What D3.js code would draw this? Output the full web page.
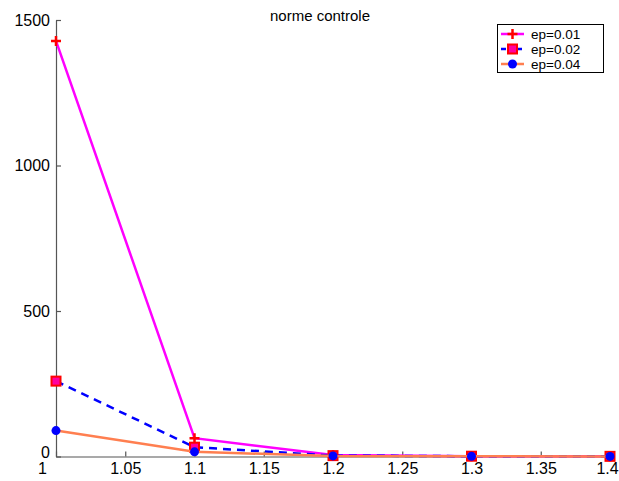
<!DOCTYPE html>
<html>
<head>
<meta charset="utf-8">
<script src="https://cdn.jsdelivr.net/npm/d3@7"></script>
<style>
  body { margin: 0; background: #fff; }
  text { font-family: "Liberation Sans", Arial, sans-serif; }
</style>
</head>
<body>
<script>
var xValues = [1.0, 1.1, 1.2, 1.3, 1.4];
var ep001 = [1428, 63, 5, 1, 0.5];
var ep002 = [259, 32, 3, 1, 0.5];
var ep004 = [89, 16, 2, 0.5, 0.3];
var seriesNames = ['ep=0.01', 'ep=0.02', 'ep=0.04'];
var xTicks = [1, 1.05, 1.1, 1.15, 1.2, 1.25, 1.3, 1.35, 1.4];
var yTicks = [0, 500, 1000, 1500];

var width = 619, height = 481;
var x = d3.scaleLinear().domain([1, 1.4]).range([56, 610]);
var y = d3.scaleLinear().domain([0, 1500]).range([456.5, 20]);

var svg = d3.select('body').append('svg')
    .attr('width', width).attr('height', height);

// axes
var xAxis = svg.append('g')
    .attr('transform', 'translate(0,' + y(0) + ')')
    .call(d3.axisBottom(x).tickValues(xTicks).tickSizeInner(-5).tickSizeOuter(0)
        .tickFormat(function (d) { return String(+d.toFixed(2)); }));
xAxis.selectAll('text').attr('font-size', 16).attr('fill', '#000').attr('dy', 0).attr('y', 17);
xAxis.selectAll('text').filter(function (d) { return d === 1; }).attr('dx', -14);
xAxis.selectAll('text').filter(function (d) { return d === 1.4; }).attr('dx', -3);

var yAxis = svg.append('g')
    .attr('transform', 'translate(' + x(1) + ',0)')
    .call(d3.axisLeft(y).tickValues(yTicks).tickSizeInner(-5).tickSizeOuter(0)
        .tickFormat(function (d) { return String(d); }));
yAxis.selectAll('text').attr('font-size', 16).attr('fill', '#000').attr('x', -6).attr('dy', '0.32em');
yAxis.selectAll('text').filter(function (d) { return d === 0; }).attr('dy', '0.05em');

svg.selectAll('.domain, .tick line').attr('stroke', '#555').attr('stroke-width', 1.2);

svg.append('text')
    .attr('x', 320).attr('y', 21)
    .attr('text-anchor', 'middle')
    .attr('font-size', 15)
    .text('norme controle');

var series = [
    {name: seriesNames[0], values: ep001, color: '#ff00ff', dash: null, marker: 'plus'},
    {name: seriesNames[1], values: ep002, color: '#0000ff', dash: '8,6', marker: 'square'},
    {name: seriesNames[2], values: ep004, color: '#ff7f50', dash: null, marker: 'dot'}
];

var line = d3.line()
    .x(function (d, i) { return x(xValues[i]); })
    .y(function (d) { return y(d); });

function drawMarker(g, type, cx, cy) {
    if (type === 'plus') {
        g.append('path')
            .attr('d', 'M' + (cx - 5) + ',' + cy + 'h10M' + cx + ',' + (cy - 5) + 'v10')
            .attr('stroke', '#ff0000').attr('stroke-width', 2.5);
    } else if (type === 'square') {
        g.append('rect')
            .attr('x', cx - 4.5).attr('y', cy - 4.5).attr('width', 9).attr('height', 9)
            .attr('fill', '#ff00a0').attr('stroke', '#ff0000').attr('stroke-width', 2);
    } else {
        g.append('circle')
            .attr('cx', cx).attr('cy', cy).attr('r', 4.5)
            .attr('fill', '#0000ff');
    }
}

series.forEach(function (s) {
    var g = svg.append('g');
    g.append('path')
        .attr('d', line(s.values))
        .attr('fill', 'none')
        .attr('stroke', s.color)
        .attr('stroke-width', 2.5)
        .attr('stroke-dasharray', s.dash);
    s.values.forEach(function (v, i) {
        drawMarker(g, s.marker, x(xValues[i]), y(v));
    });
});

// legend
var legend = svg.append('g');
legend.append('rect')
    .attr('x', 497.5).attr('y', 24.5).attr('width', 106).attr('height', 48)
    .attr('fill', '#fff').attr('stroke', '#000').attr('stroke-width', 1);
series.forEach(function (s, i) {
    var ly = 34 + i * 15;
    legend.append('line')
        .attr('x1', 501).attr('x2', 524).attr('y1', ly).attr('y2', ly)
        .attr('stroke', s.color).attr('stroke-width', 2.5)
        .attr('stroke-dasharray', s.dash ? '5,3' : null);
    drawMarker(legend, s.marker, 512.5, ly);
    legend.append('text')
        .attr('x', 531).attr('y', ly + 5)
        .attr('font-size', 13.5)
        .text(s.name);
});
</script>
</body>
</html>
